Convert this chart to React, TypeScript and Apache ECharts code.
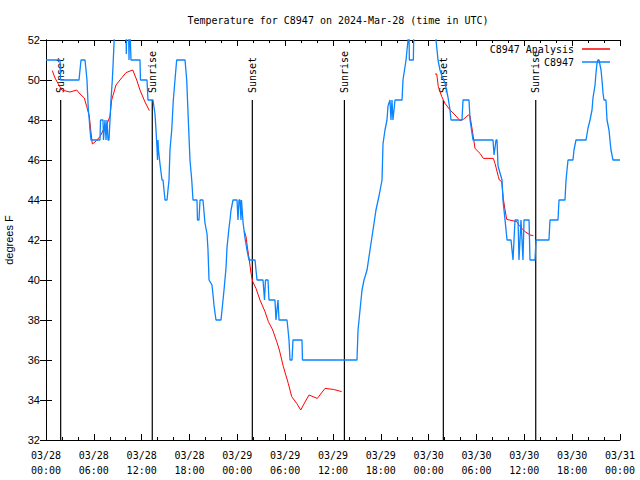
import React, { useEffect, useRef } from "react";
import * as echarts from "echarts";

// hours since 2024-03-28 00:00 UTC
const xTickLabels = [
  "03/28\n00:00", "03/28\n06:00", "03/28\n12:00", "03/28\n18:00",
  "03/29\n00:00", "03/29\n06:00", "03/29\n12:00", "03/29\n18:00",
  "03/30\n00:00", "03/30\n06:00", "03/30\n12:00", "03/30\n18:00",
  "03/31\n00:00",
];

const sunHours = [1.84, 13.33, 25.88, 37.43, 49.84, 61.43];
const sunLabels = ["Sunset", "Sunrise", "Sunset", "Sunrise", "Sunset", "Sunrise"];
const sunLineTop = 49;

const observed: [number, number][] = [
  [0.0, 51], [1.76, 51], [1.82, 50], [4.14, 50], [4.39, 51], [4.89, 51], [5.02, 50.5], [5.14, 50],
  [5.31, 48.5], [5.43, 48], [5.52, 47.5], [5.64, 47], [6.77, 47], [6.84, 48], [7.15, 48], [7.21, 47],
  [7.4, 48], [7.53, 47], [7.65, 48], [7.78, 47], [7.9, 47], [8.03, 48], [8.15, 49], [8.32, 50],
  [8.44, 51], [8.66, 53], [10.04, 53], [10.07, 51.3], [10.16, 53], [10.35, 53], [10.41, 51], [10.5, 53],
  [10.66, 51], [11.79, 51], [11.85, 50], [12.67, 50], [12.79, 49], [13.42, 49], [13.67, 48.3], [13.8, 47.5],
  [13.92, 46.6], [13.99, 46], [14.05, 47], [14.11, 46.5], [14.3, 45.8], [14.55, 45], [14.68, 45], [14.8, 44.5],
  [14.93, 44], [15.18, 44], [15.3, 44.5], [15.43, 45], [15.55, 46.5], [15.77, 47.5], [15.97, 49], [16.18, 50],
  [16.39, 51], [17.44, 51], [17.65, 50], [17.85, 48], [18.06, 46], [18.28, 45], [18.44, 44], [18.94, 44],
  [19.0, 43], [19.19, 43], [19.32, 44], [19.69, 44], [19.94, 42.85], [20.2, 42.3], [20.32, 41.5], [20.45, 40],
  [20.82, 39.75], [20.95, 39.25], [21.07, 38.75], [21.32, 38], [21.95, 38], [22.08, 38.5], [22.33, 39.5], [22.58, 40.6],
  [22.7, 41.6], [22.95, 42.6], [23.08, 43], [23.21, 43.5], [23.46, 44], [23.96, 44], [24.08, 43], [24.21, 44],
  [24.33, 44], [24.46, 43], [24.52, 44], [24.71, 42.9], [24.96, 42.1], [25.21, 41.5], [25.46, 41], [26.22, 41],
  [26.34, 40.5], [26.47, 40], [27.22, 40], [27.41, 39], [27.53, 40], [27.85, 40], [27.97, 39], [28.72, 39],
  [28.85, 38], [28.97, 38.5], [29.1, 39], [29.23, 38], [30.23, 38], [30.36, 37.5], [30.48, 37], [30.61, 36],
  [30.86, 36], [30.98, 37], [32.11, 37], [32.17, 36], [39.01, 36], [39.14, 37.5], [39.39, 38.5], [39.64, 39.5],
  [39.89, 40], [40.27, 40.5], [40.64, 41.5], [41.02, 42.5], [41.39, 43.5], [41.77, 44.2], [42.15, 45], [42.27, 46.8],
  [42.52, 47.5], [42.77, 48], [42.9, 48.7], [43.15, 49], [43.27, 48], [43.4, 49], [43.52, 48], [43.78, 49],
  [44.66, 49], [44.78, 50], [45.16, 51], [45.41, 52], [45.5, 53], [45.58, 51], [46.08, 51], [46.16, 53],
  [48.79, 53], [48.92, 52], [49.05, 51.5], [49.17, 51], [49.42, 50.5], [49.67, 50.2], [50.05, 49.85], [50.42, 49.15],
  [50.68, 48.5], [50.8, 48], [52.18, 48], [52.31, 49], [53.06, 49], [53.19, 48], [53.56, 47], [56.07, 47],
  [56.2, 46.25], [56.45, 47], [56.57, 47], [56.7, 45.7], [57.2, 45], [57.32, 44], [57.58, 43], [57.83, 42],
  [58.33, 42], [58.58, 41], [58.83, 43], [59.21, 43], [59.33, 41], [59.58, 43], [59.83, 41], [59.96, 43],
  [60.59, 43], [60.71, 41], [61.34, 41], [61.46, 42], [63.09, 42], [63.22, 43], [64.22, 43], [64.35, 44],
  [65.1, 44], [65.23, 45], [65.48, 46], [66.1, 46], [66.23, 46.5], [66.48, 47], [67.74, 47], [67.99, 47.6],
  [68.24, 48], [68.49, 48.5], [68.61, 49.1], [68.87, 49.75], [68.99, 50.35], [69.12, 50.85], [69.24, 51], [69.37, 51],
  [69.62, 50.5], [69.74, 50], [69.87, 49.35], [69.99, 49], [70.24, 49], [70.37, 48], [70.62, 47.5], [70.74, 47],
  [70.87, 46.5], [71.12, 46], [72.0, 46],
];

const analysisPart1: [number, number][] = [
  [0.79, 50.47], [1.13, 50.1], [1.97, 49.5], [3.01, 49.4], [3.85, 49.5], [4.27, 49.3], [4.8, 49.1], [5.11, 48.67],
  [5.43, 48.2], [5.61, 47.5], [5.81, 46.8], [6.15, 46.9], [6.77, 47.17], [7.19, 47.5], [7.61, 47.75], [8.03, 48.2],
  [8.24, 49], [8.78, 49.75], [9.28, 50], [10.04, 50.37], [10.88, 50.5], [11.38, 50], [11.79, 49.5], [12.42, 48.9],
  [12.96, 48.47],
];
const analysisPart2: [number, number][] = [
  [24.87, 42.45], [25.09, 42.17], [25.25, 41.67], [25.5, 41], [25.72, 40.33], [25.93, 39.92], [26.34, 39.58], [26.84, 39],
  [27.47, 38.42], [27.89, 37.92], [28.44, 37.5], [28.94, 36.92], [29.27, 36.5], [29.77, 35.67], [30.39, 34.83], [30.82, 34.17],
  [31.45, 33.83], [31.95, 33.5], [32.49, 33.9], [32.99, 34.25], [34.03, 34.08], [35.0, 34.58], [36.04, 34.53], [37.09, 34.42],
];
const analysisPart3: [number, number][] = [
  [48.8, 50.3], [49.01, 50.3], [49.21, 49.67], [49.64, 49.17], [50.05, 48.83], [50.68, 48.5], [51.31, 48.25], [51.93, 47.97],
  [52.35, 48.03], [52.97, 48.25], [53.19, 48.2], [53.6, 47.17], [53.81, 46.58], [54.44, 46.33], [54.86, 46.08], [56.11, 46.08],
  [56.32, 45.83], [56.53, 45.5], [56.74, 45.17], [56.86, 45], [57.16, 44.92], [57.36, 44.08], [57.58, 43.5], [57.79, 43.03],
  [59.04, 42.92], [59.46, 42.67], [60.09, 42.42], [60.71, 42.25], [61.13, 42.22],
];

const MONO = "'DejaVu Sans Mono', 'Liberation Mono', monospace";
const SANS = "'Liberation Sans', Arial, sans-serif";

export default function App() {
  const ref = useRef<HTMLDivElement>(null);
  useEffect(() => {
    if (!ref.current) return;
    const chart = echarts.init(ref.current, null, { renderer: "svg" });
    const gap: any = [null, null];
    const analysis: any[] = [
      ...analysisPart1, gap, ...analysisPart2, gap, ...analysisPart3,
    ];
    const axisLineStyle = { show: true, lineStyle: { color: "#000", width: 1 } };
    chart.setOption({
      animation: false,
      backgroundColor: "#fff",
      title: {
        text: "Temperature for C8947 on 2024-Mar-28 (time in UTC)",
        left: 333,
        top: 10,
        textAlign: "center",
        textStyle: { fontFamily: MONO, fontSize: 10, fontWeight: "normal", color: "#000" },
      },
      legend: {
        data: ["C8947 Analysis", "C8947"],
        orient: "vertical",
        right: 25,
        top: 39,
        align: "right",
        icon: "rect",
        itemWidth: 28,
        itemHeight: 1.5,
        itemGap: 3,
        textStyle: { fontFamily: MONO, fontSize: 10, color: "#000", padding: [0, 3, 0, 0] },
      },
      grid: { left: 46, right: 20, top: 40, bottom: 40, containLabel: false, outerBoundsMode: "none" },
      xAxis: [
        {
          type: "value",
          min: 0,
          max: 72,
          interval: 6,
          axisLine: axisLineStyle,
          axisTick: { inside: true, length: 6, lineStyle: { color: "#000" } },
          minorTick: { show: true, splitNumber: 3, length: 3, lineStyle: { color: "#000" } },
          splitLine: { show: false },
          axisLabel: {
            margin: 8,
            color: "#000",
            fontFamily: MONO,
            fontSize: 10,
            lineHeight: 15,
            formatter: (v: number) => xTickLabels[Math.round(v / 6)] ?? "",
          },
        },
        {
          type: "value",
          position: "top",
          min: 0,
          max: 72,
          interval: 6,
          axisLine: axisLineStyle,
          axisTick: { inside: true, length: 6, lineStyle: { color: "#000" } },
          minorTick: { show: true, splitNumber: 3, length: 3, lineStyle: { color: "#000" } },
          splitLine: { show: false },
          axisLabel: { show: false },
        },
      ],
      yAxis: [
        {
          type: "value",
          min: 32,
          max: 52,
          interval: 2,
          name: "degrees F",
          nameLocation: "middle",
          nameGap: 32,
          nameTextStyle: { fontFamily: SANS, fontSize: 11, color: "#000" },
          axisLine: axisLineStyle,
          axisTick: { inside: true, length: 6, lineStyle: { color: "#000" } },
          splitLine: { show: false },
          axisLabel: { margin: 6, color: "#000", fontFamily: SANS, fontSize: 11 },
        },
        {
          type: "value",
          position: "right",
          min: 32,
          max: 52,
          interval: 2,
          axisLine: axisLineStyle,
          axisTick: { inside: true, length: 6, lineStyle: { color: "#000" } },
          splitLine: { show: false },
          axisLabel: { show: false },
        },
      ],
      series: [
        {
          type: "custom",
          coordinateSystem: "cartesian2d",
          silent: true,
          z: 1,
          data: sunHours.map((h, i) => [h, sunLineTop, i]),
          encode: { x: 0, y: 1 },
          renderItem: (params: any, api: any) => {
            const h = api.value(0);
            const idx = api.value(2);
            const p0 = api.coord([h, 32]);
            const p1 = api.coord([h, api.value(1)]);
            return {
              type: "group",
              children: [
                {
                  type: "line",
                  shape: { x1: p0[0], y1: p0[1], x2: p1[0], y2: p1[1] },
                  style: { stroke: "#000", lineWidth: 1.2 },
                },
                {
                  type: "text",
                  x: p1[0],
                  y: p1[1] - 7,
                  rotation: Math.PI / 2,
                  style: {
                    text: sunLabels[idx],
                    fill: "#000",
                    font: `10px ${MONO}`,
                    align: "left",
                    verticalAlign: "middle",
                  },
                },
              ],
            };
          },
        },
        {
          name: "C8947 Analysis",
          type: "line",
          data: analysis,
          symbol: "none",
          connectNulls: false,
          clip: true,
          z: 2,
          lineStyle: { color: "#ff0000", width: 1 },
          itemStyle: { color: "#ff0000" },
        },
        {
          name: "C8947",
          type: "line",
          data: observed,
          symbol: "none",
          clip: true,
          z: 3,
          lineStyle: { color: "#0a84ff", width: 1.3 },
          itemStyle: { color: "#0a84ff" },
        },
      ],
    });
    return () => chart.dispose();
  }, []);
  return (
    <div
      ref={ref}
      style={{ position: "fixed", left: 0, top: 0, width: 640, height: 480, background: "#fff" }}
    />
  );
}
